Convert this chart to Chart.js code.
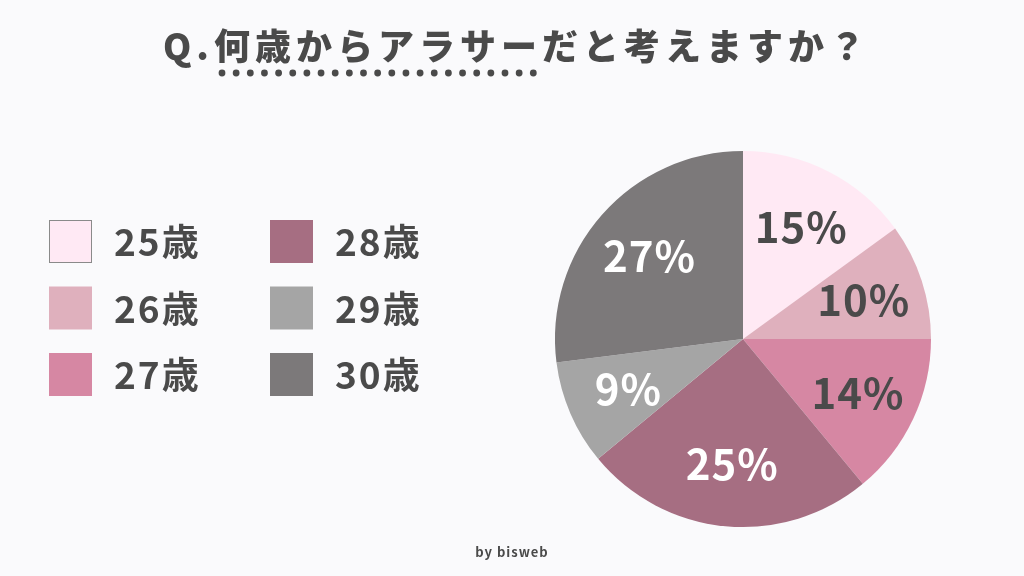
<!DOCTYPE html>
<html lang="ja">
<head>
<meta charset="utf-8">
<script src="https://cdn.jsdelivr.net/npm/chart.js@4.4.0/dist/chart.umd.min.js"></script>
<style>
  html, body { margin: 0; padding: 0; background: #fafafc; }
  #wrap { width: 1024px; height: 576px; position: relative; }
</style>
</head>
<body>
<div id="wrap"><canvas id="canvas"></canvas></div>
<script>
const titleText = "Q.何歳からアラサーだと考えますか？"
const labels = ["25歳", "26歳", "27歳", "28歳", "29歳", "30歳"]
const shares = [15, 10, 14, 25, 9, 27]
const colors = ["#ffe9f4", "#dfb0bd", "#d687a3", "#a66e82", "#a5a5a5", "#7c797a"]
const labelColors = ["#4a4a4a", "#4a4a4a", "#4a4a4a", "#ffffff", "#ffffff", "#ffffff"]
const credit = "by bisweb"

const ink = "#4a4a4a"
const jp = "'Noto Sans CJK JP', 'Noto Sans', sans-serif"

// title, dotted underline, legend and credit drawn on the chart canvas
const decor = {
    id: "decor",
    afterDraw(chart) {
        const ctx = chart.ctx
        ctx.save()

        // title
        ctx.fillStyle = ink
        ctx.font = "900 36px " + jp
        ctx.textBaseline = "middle"
        ctx.textAlign = "left"
        ctx.letterSpacing = "5px"
        ctx.fillText(titleText, 163, 46)
        ctx.letterSpacing = "0px"

        // dotted underline under 何歳からアラサー
        for (let i = 0; i < 23; i++) {
            ctx.beginPath()
            ctx.arc(222 + i * 14.15, 73, 3.4, 0, Math.PI * 2)
            ctx.fill()
        }

        // legend, two columns of three
        const data = chart.data.datasets[0]
        chart.data.labels.forEach((lab, i) => {
            const col = Math.floor(i / 3)
            const row = i % 3
            const bx = 49 + col * 221
            const by = 220 + row * 66.5
            ctx.fillStyle = data.backgroundColor[i]
            ctx.fillRect(bx, by, 43, 43)
            if (i === 0) {
                ctx.strokeStyle = "#8a8a8a"
                ctx.lineWidth = 1
                ctx.strokeRect(bx + 0.5, by + 0.5, 42, 42)
            }
            ctx.fillStyle = ink
            ctx.font = "700 37px " + jp
            ctx.textAlign = "left"
            ctx.letterSpacing = "2px"
            ctx.fillText(lab, bx + 65, by + 22)
        })

        // percentage labels in the slices
        const meta = chart.getDatasetMeta(0)
        meta.data.forEach((arc, i) => {
            const mid = (arc.startAngle + arc.endAngle) / 2
            const r = arc.outerRadius * 0.67
            const x = arc.x + Math.cos(mid) * r
            const y = arc.y + Math.sin(mid) * r
            ctx.fillStyle = labelColors[i]
            ctx.font = "700 42px " + jp
            ctx.textAlign = "center"
            ctx.letterSpacing = "1px"
            ctx.fillText(shares[i] + "%", x + 1, y)
        })

        // credit
        ctx.fillStyle = ink
        ctx.font = "700 13px " + jp
        ctx.letterSpacing = "1px"
        ctx.textAlign = "center"
        ctx.fillText(credit, 512, 552)
        ctx.restore()
    }
}

const config = {
    type: "pie",
    data: {
        labels: labels,
        datasets: [
            {
                data: shares,
                backgroundColor: colors,
                borderWidth: 0,
            }
        ]
    },
    options: {
        responsive: true,
        maintainAspectRatio: false,
        animation: false,
        layout: {
            padding: { left: 555, right: 93, top: 151, bottom: 49 }
        },
        plugins: {
            legend: { display: false },
            tooltip: { enabled: false },
        },
    },
    plugins: [decor]
}

let chart = new Chart(document.getElementById("canvas").getContext("2d"), config)
</script>
</body>
</html>
